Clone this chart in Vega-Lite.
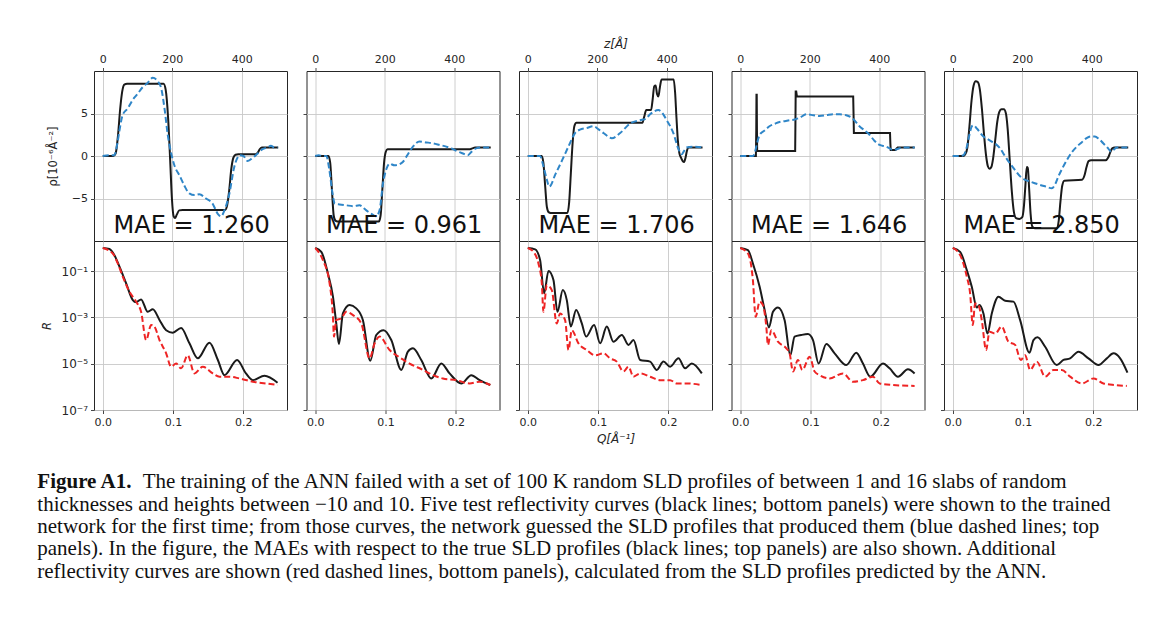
{
"$schema": "https://vega.github.io/schema/vega-lite/v6.json",
"autosize": {"type": "none"},
"padding": {"left": 94, "top": 71, "right": 1076, "bottom": 546},
"background": "white",
"config": {
  "view": {"stroke": "#262626", "strokeWidth": 1},
  "axis": {"domain": false, "grid": true, "gridColor": "#c8c8c8", "gridWidth": 0.9, "ticks": true, "tickColor": "#333333", "tickSize": 3.5, "tickWidth": 0.9, "labelFont": "DejaVu Sans", "labelFontSize": 11, "labelColor": "#262626", "labelPadding": 3, "labelFlush": false, "titleFont": "DejaVu Sans", "titleFontSize": 11.5, "titleFontWeight": "normal", "titleColor": "#262626"}
},
"datasets": {
  "mae": [
    {"panel": 1, "label": "MAE = 1.260"},
    {"panel": 2, "label": "MAE = 0.961"},
    {"panel": 3, "label": "MAE = 1.706"},
    {"panel": 4, "label": "MAE = 1.646"},
    {"panel": 5, "label": "MAE = 2.850"}
  ],
  "caption": [
    {"line": 1, "part": "bold", "text": "Figure A1."},
    {"line": 1, "part": "rest", "text": "The training of the ANN failed with a set of 100 K random SLD profiles of between 1 and 16 slabs of random"},
    {"line": 2, "part": "body", "text": "thicknesses and heights between −10 and 10. Five test reflectivity curves (black lines; bottom panels) were shown to the trained"},
    {"line": 3, "part": "body", "text": "network for the first time; from those curves, the network guessed the SLD profiles that produced them (blue dashed lines; top"},
    {"line": 4, "part": "body", "text": "panels). In the figure, the MAEs with respect to the true SLD profiles (black lines; top panels) are also shown. Additional"},
    {"line": 5, "part": "body", "text": "reflectivity curves are shown (red dashed lines, bottom panels), calculated from the SLD profiles predicted by the ANN."}
  ],
  "sld": [
{"panel":1,"series":"true","z":0,"rho":0},{"panel":1,"series":"true","z":30,"rho":0},{"panel":1,"series":"true","z":37,"rho":0.3},{"panel":1,"series":"true","z":44,"rho":2.5},{"panel":1,"series":"true","z":50,"rho":5.5},{"panel":1,"series":"true","z":56,"rho":7.6},{"panel":1,"series":"true","z":62,"rho":8.4},{"panel":1,"series":"true","z":70,"rho":8.5},{"panel":1,"series":"true","z":175,"rho":8.5},{"panel":1,"series":"true","z":181,"rho":7.8},{"panel":1,"series":"true","z":188,"rho":4.5},{"panel":1,"series":"true","z":194,"rho":-0.5},{"panel":1,"series":"true","z":199,"rho":-5},{"panel":1,"series":"true","z":204,"rho":-7.1},{"panel":1,"series":"true","z":208,"rho":-7.3},{"panel":1,"series":"true","z":213,"rho":-6.9},{"panel":1,"series":"true","z":220,"rho":-6.4},{"panel":1,"series":"true","z":230,"rho":-6.35},{"panel":1,"series":"true","z":352,"rho":-6.35},{"panel":1,"series":"true","z":358,"rho":-5.8},{"panel":1,"series":"true","z":364,"rho":-4},{"panel":1,"series":"true","z":370,"rho":-1.5},{"panel":1,"series":"true","z":376,"rho":-0.2},{"panel":1,"series":"true","z":382,"rho":0.15},{"panel":1,"series":"true","z":390,"rho":0.2},{"panel":1,"series":"true","z":440,"rho":0.2},{"panel":1,"series":"true","z":446,"rho":0.4},{"panel":1,"series":"true","z":452,"rho":0.8},{"panel":1,"series":"true","z":458,"rho":1.0},{"panel":1,"series":"true","z":505,"rho":1.0},
{"panel":1,"series":"predicted","z":0,"rho":0},{"panel":1,"series":"predicted","z":20,"rho":0.1},{"panel":1,"series":"predicted","z":33,"rho":0.1},{"panel":1,"series":"predicted","z":42,"rho":1.5},{"panel":1,"series":"predicted","z":48,"rho":3},{"panel":1,"series":"predicted","z":57,"rho":4.8},{"panel":1,"series":"predicted","z":72,"rho":5.6},{"panel":1,"series":"predicted","z":86,"rho":6.6},{"panel":1,"series":"predicted","z":100,"rho":7.3},{"panel":1,"series":"predicted","z":115,"rho":8.1},{"panel":1,"series":"predicted","z":129,"rho":8.6},{"panel":1,"series":"predicted","z":144,"rho":9.2},{"panel":1,"series":"predicted","z":158,"rho":8.8},{"panel":1,"series":"predicted","z":168,"rho":8.0},{"panel":1,"series":"predicted","z":178,"rho":5.5},{"panel":1,"series":"predicted","z":187,"rho":2.5},{"panel":1,"series":"predicted","z":197,"rho":0.3},{"panel":1,"series":"predicted","z":207,"rho":-1.2},{"panel":1,"series":"predicted","z":221,"rho":-2.3},{"panel":1,"series":"predicted","z":235,"rho":-3.5},{"panel":1,"series":"predicted","z":249,"rho":-4.4},{"panel":1,"series":"predicted","z":264,"rho":-4.6},{"panel":1,"series":"predicted","z":278,"rho":-4.5},{"panel":1,"series":"predicted","z":297,"rho":-5.0},{"panel":1,"series":"predicted","z":316,"rho":-5.6},{"panel":1,"series":"predicted","z":331,"rho":-6.8},{"panel":1,"series":"predicted","z":340,"rho":-7.1},{"panel":1,"series":"predicted","z":352,"rho":-6.2},{"panel":1,"series":"predicted","z":364,"rho":-4.5},{"panel":1,"series":"predicted","z":379,"rho":-1.2},{"panel":1,"series":"predicted","z":395,"rho":0.1},{"panel":1,"series":"predicted","z":405,"rho":0},{"panel":1,"series":"predicted","z":417,"rho":-0.6},{"panel":1,"series":"predicted","z":432,"rho":-0.2},{"panel":1,"series":"predicted","z":446,"rho":0.3},{"panel":1,"series":"predicted","z":460,"rho":0.8},{"panel":1,"series":"predicted","z":474,"rho":1.0},{"panel":1,"series":"predicted","z":484,"rho":1.2},{"panel":1,"series":"predicted","z":494,"rho":1.0},{"panel":1,"series":"predicted","z":503,"rho":1.0},
{"panel":2,"series":"true","z":0,"rho":0},{"panel":2,"series":"true","z":38,"rho":0},{"panel":2,"series":"true","z":43,"rho":-0.8},{"panel":2,"series":"true","z":48,"rho":-4},{"panel":2,"series":"true","z":53,"rho":-7},{"panel":2,"series":"true","z":58,"rho":-7.6},{"panel":2,"series":"true","z":64,"rho":-7.7},{"panel":2,"series":"true","z":183,"rho":-7.7},{"panel":2,"series":"true","z":188,"rho":-7},{"panel":2,"series":"true","z":193,"rho":-4},{"panel":2,"series":"true","z":198,"rho":-0.8},{"panel":2,"series":"true","z":203,"rho":0.5},{"panel":2,"series":"true","z":208,"rho":0.8},{"panel":2,"series":"true","z":446,"rho":0.8},{"panel":2,"series":"true","z":452,"rho":0.9},{"panel":2,"series":"true","z":460,"rho":1.0},{"panel":2,"series":"true","z":505,"rho":1.0},
{"panel":2,"series":"predicted","z":0,"rho":0},{"panel":2,"series":"predicted","z":10,"rho":0.1},{"panel":2,"series":"predicted","z":20,"rho":0},{"panel":2,"series":"predicted","z":32,"rho":0},{"panel":2,"series":"predicted","z":40,"rho":-1.5},{"panel":2,"series":"predicted","z":50,"rho":-4.5},{"panel":2,"series":"predicted","z":56,"rho":-5.6},{"panel":2,"series":"predicted","z":70,"rho":-5.7},{"panel":2,"series":"predicted","z":89,"rho":-5.8},{"panel":2,"series":"predicted","z":110,"rho":-5.9},{"panel":2,"series":"predicted","z":127,"rho":-5.8},{"panel":2,"series":"predicted","z":147,"rho":-6.4},{"panel":2,"series":"predicted","z":165,"rho":-6.9},{"panel":2,"series":"predicted","z":175,"rho":-7.1},{"panel":2,"series":"predicted","z":185,"rho":-6.4},{"panel":2,"series":"predicted","z":195,"rho":-3.2},{"panel":2,"series":"predicted","z":205,"rho":-1.5},{"panel":2,"series":"predicted","z":214,"rho":-0.9},{"panel":2,"series":"predicted","z":228,"rho":-1.1},{"panel":2,"series":"predicted","z":240,"rho":-1.0},{"panel":2,"series":"predicted","z":252,"rho":-0.7},{"panel":2,"series":"predicted","z":268,"rho":0.3},{"panel":2,"series":"predicted","z":281,"rho":1.1},{"panel":2,"series":"predicted","z":300,"rho":1.7},{"panel":2,"series":"predicted","z":320,"rho":1.6},{"panel":2,"series":"predicted","z":338,"rho":1.5},{"panel":2,"series":"predicted","z":358,"rho":1.3},{"panel":2,"series":"predicted","z":377,"rho":1.1},{"panel":2,"series":"predicted","z":392,"rho":0.9},{"panel":2,"series":"predicted","z":406,"rho":0.6},{"panel":2,"series":"predicted","z":425,"rho":0.3},{"panel":2,"series":"predicted","z":439,"rho":0.1},{"panel":2,"series":"predicted","z":450,"rho":0.5},{"panel":2,"series":"predicted","z":463,"rho":0.9},{"panel":2,"series":"predicted","z":480,"rho":1.0},{"panel":2,"series":"predicted","z":503,"rho":1.0},
{"panel":3,"series":"true","z":0,"rho":0},{"panel":3,"series":"true","z":40,"rho":0},{"panel":3,"series":"true","z":45,"rho":-0.8},{"panel":3,"series":"true","z":50,"rho":-3.5},{"panel":3,"series":"true","z":55,"rho":-6},{"panel":3,"series":"true","z":60,"rho":-6.6},{"panel":3,"series":"true","z":66,"rho":-6.7},{"panel":3,"series":"true","z":114,"rho":-6.7},{"panel":3,"series":"true","z":119,"rho":-5.5},{"panel":3,"series":"true","z":124,"rho":-2},{"panel":3,"series":"true","z":129,"rho":1.5},{"panel":3,"series":"true","z":134,"rho":3.5},{"panel":3,"series":"true","z":140,"rho":3.9},{"panel":3,"series":"true","z":330,"rho":3.9},{"panel":3,"series":"true","z":335,"rho":4.6},{"panel":3,"series":"true","z":341,"rho":5.4},{"panel":3,"series":"true","z":355,"rho":5.4},{"panel":3,"series":"true","z":359,"rho":6.5},{"panel":3,"series":"true","z":364,"rho":8.2},{"panel":3,"series":"true","z":368,"rho":8.3},{"panel":3,"series":"true","z":372,"rho":7.3},{"panel":3,"series":"true","z":376,"rho":7.0},{"panel":3,"series":"true","z":380,"rho":8.0},{"panel":3,"series":"true","z":385,"rho":9.0},{"panel":3,"series":"true","z":420,"rho":9.0},{"panel":3,"series":"true","z":424,"rho":7.5},{"panel":3,"series":"true","z":428,"rho":4.5},{"panel":3,"series":"true","z":432,"rho":1.8},{"panel":3,"series":"true","z":436,"rho":0.4},{"panel":3,"series":"true","z":441,"rho":-0.2},{"panel":3,"series":"true","z":446,"rho":-0.6},{"panel":3,"series":"true","z":450,"rho":-0.7},{"panel":3,"series":"true","z":454,"rho":-0.2},{"panel":3,"series":"true","z":458,"rho":0.6},{"panel":3,"series":"true","z":463,"rho":1.0},{"panel":3,"series":"true","z":503,"rho":1.0},
{"panel":3,"series":"predicted","z":0,"rho":0},{"panel":3,"series":"predicted","z":35,"rho":0},{"panel":3,"series":"predicted","z":45,"rho":-1.2},{"panel":3,"series":"predicted","z":55,"rho":-2.8},{"panel":3,"series":"predicted","z":62,"rho":-3.6},{"panel":3,"series":"predicted","z":80,"rho":-2.1},{"panel":3,"series":"predicted","z":100,"rho":-0.4},{"panel":3,"series":"predicted","z":118,"rho":1.2},{"panel":3,"series":"predicted","z":136,"rho":2.7},{"panel":3,"series":"predicted","z":150,"rho":3.1},{"panel":3,"series":"predicted","z":170,"rho":3.3},{"panel":3,"series":"predicted","z":189,"rho":3.5},{"panel":3,"series":"predicted","z":205,"rho":3.1},{"panel":3,"series":"predicted","z":218,"rho":2.7},{"panel":3,"series":"predicted","z":242,"rho":2.1},{"panel":3,"series":"predicted","z":266,"rho":2.7},{"panel":3,"series":"predicted","z":294,"rho":3.8},{"panel":3,"series":"predicted","z":323,"rho":4.2},{"panel":3,"series":"predicted","z":340,"rho":4.4},{"panel":3,"series":"predicted","z":352,"rho":4.9},{"panel":3,"series":"predicted","z":376,"rho":5.4},{"panel":3,"series":"predicted","z":390,"rho":4.9},{"panel":3,"series":"predicted","z":400,"rho":4.2},{"panel":3,"series":"predicted","z":410,"rho":3.5},{"panel":3,"series":"predicted","z":419,"rho":2.7},{"panel":3,"series":"predicted","z":433,"rho":0.9},{"panel":3,"series":"predicted","z":443,"rho":0.2},{"panel":3,"series":"predicted","z":450,"rho":0.6},{"panel":3,"series":"predicted","z":457,"rho":1.0},{"panel":3,"series":"predicted","z":477,"rho":1.1},{"panel":3,"series":"predicted","z":503,"rho":1.0},
{"panel":4,"series":"true","z":0,"rho":0},{"panel":4,"series":"true","z":45,"rho":0},{"panel":4,"series":"true","z":46,"rho":3},{"panel":4,"series":"true","z":46.6,"rho":7.2},{"panel":4,"series":"true","z":47.4,"rho":7.2},{"panel":4,"series":"true","z":48,"rho":3},{"panel":4,"series":"true","z":48.6,"rho":0.6},{"panel":4,"series":"true","z":158,"rho":0.6},{"panel":4,"series":"true","z":158.8,"rho":4},{"panel":4,"series":"true","z":159.5,"rho":7.6},{"panel":4,"series":"true","z":161,"rho":7.6},{"panel":4,"series":"true","z":163,"rho":7.0},{"panel":4,"series":"true","z":325,"rho":7.0},{"panel":4,"series":"true","z":326,"rho":5},{"panel":4,"series":"true","z":327,"rho":2.7},{"panel":4,"series":"true","z":431,"rho":2.7},{"panel":4,"series":"true","z":432,"rho":1.5},{"panel":4,"series":"true","z":433,"rho":0.7},{"panel":4,"series":"true","z":447,"rho":0.7},{"panel":4,"series":"true","z":450,"rho":0.9},{"panel":4,"series":"true","z":453,"rho":1.0},{"panel":4,"series":"true","z":502,"rho":1.0},
{"panel":4,"series":"predicted","z":0,"rho":0},{"panel":4,"series":"predicted","z":36,"rho":0},{"panel":4,"series":"predicted","z":42,"rho":0.4},{"panel":4,"series":"predicted","z":46,"rho":1.1},{"panel":4,"series":"predicted","z":56,"rho":2.5},{"panel":4,"series":"predicted","z":70,"rho":3.0},{"panel":4,"series":"predicted","z":84,"rho":3.5},{"panel":4,"series":"predicted","z":100,"rho":3.8},{"panel":4,"series":"predicted","z":113,"rho":4.0},{"panel":4,"series":"predicted","z":128,"rho":4.1},{"panel":4,"series":"predicted","z":142,"rho":4.2},{"panel":4,"series":"predicted","z":157,"rho":4.3},{"panel":4,"series":"predicted","z":171,"rho":4.5},{"panel":4,"series":"predicted","z":190,"rho":4.9},{"panel":4,"series":"predicted","z":210,"rho":4.8},{"panel":4,"series":"predicted","z":228,"rho":4.7},{"panel":4,"series":"predicted","z":248,"rho":4.8},{"panel":4,"series":"predicted","z":267,"rho":4.9},{"panel":4,"series":"predicted","z":286,"rho":4.9},{"panel":4,"series":"predicted","z":305,"rho":4.8},{"panel":4,"series":"predicted","z":324,"rho":4.4},{"panel":4,"series":"predicted","z":343,"rho":3.5},{"panel":4,"series":"predicted","z":358,"rho":3.0},{"panel":4,"series":"predicted","z":372,"rho":2.5},{"panel":4,"series":"predicted","z":386,"rho":1.8},{"panel":4,"series":"predicted","z":401,"rho":1.3},{"panel":4,"series":"predicted","z":420,"rho":1.1},{"panel":4,"series":"predicted","z":430,"rho":0.9},{"panel":4,"series":"predicted","z":439,"rho":0.7},{"panel":4,"series":"predicted","z":450,"rho":0.8},{"panel":4,"series":"predicted","z":468,"rho":1.0},{"panel":4,"series":"predicted","z":502,"rho":1.0},
{"panel":5,"series":"true","z":0,"rho":0},{"panel":5,"series":"true","z":30,"rho":0},{"panel":5,"series":"true","z":36,"rho":0.2},{"panel":5,"series":"true","z":42,"rho":1},{"panel":5,"series":"true","z":48,"rho":3.5},{"panel":5,"series":"true","z":54,"rho":6.5},{"panel":5,"series":"true","z":60,"rho":8.3},{"panel":5,"series":"true","z":66,"rho":8.8},{"panel":5,"series":"true","z":72,"rho":8.7},{"panel":5,"series":"true","z":78,"rho":7.8},{"panel":5,"series":"true","z":84,"rho":5.5},{"panel":5,"series":"true","z":90,"rho":2.5},{"panel":5,"series":"true","z":96,"rho":0},{"panel":5,"series":"true","z":101,"rho":-1.2},{"panel":5,"series":"true","z":106,"rho":-1.5},{"panel":5,"series":"true","z":111,"rho":-1.3},{"panel":5,"series":"true","z":116,"rho":-0.3},{"panel":5,"series":"true","z":122,"rho":1.8},{"panel":5,"series":"true","z":128,"rho":4},{"panel":5,"series":"true","z":134,"rho":5.2},{"panel":5,"series":"true","z":140,"rho":5.5},{"panel":5,"series":"true","z":147,"rho":5.5},{"panel":5,"series":"true","z":153,"rho":5.0},{"panel":5,"series":"true","z":158,"rho":3.2},{"panel":5,"series":"true","z":164,"rho":-0.5},{"panel":5,"series":"true","z":170,"rho":-4.2},{"panel":5,"series":"true","z":176,"rho":-6.6},{"panel":5,"series":"true","z":182,"rho":-7.3},{"panel":5,"series":"true","z":192,"rho":-7.4},{"panel":5,"series":"true","z":200,"rho":-7.2},{"panel":5,"series":"true","z":205,"rho":-5.8},{"panel":5,"series":"true","z":209,"rho":-3.5},{"panel":5,"series":"true","z":213,"rho":-1.3},{"panel":5,"series":"true","z":216,"rho":-1.4},{"panel":5,"series":"true","z":220,"rho":-4},{"panel":5,"series":"true","z":224,"rho":-6.8},{"panel":5,"series":"true","z":229,"rho":-8.3},{"panel":5,"series":"true","z":236,"rho":-8.5},{"panel":5,"series":"true","z":300,"rho":-8.5},{"panel":5,"series":"true","z":305,"rho":-7.6},{"panel":5,"series":"true","z":310,"rho":-5.3},{"panel":5,"series":"true","z":315,"rho":-3.5},{"panel":5,"series":"true","z":321,"rho":-2.9},{"panel":5,"series":"true","z":372,"rho":-2.8},{"panel":5,"series":"true","z":379,"rho":-2.3},{"panel":5,"series":"true","z":385,"rho":-1.3},{"panel":5,"series":"true","z":391,"rho":-0.6},{"panel":5,"series":"true","z":398,"rho":-0.5},{"panel":5,"series":"true","z":440,"rho":-0.5},{"panel":5,"series":"true","z":447,"rho":-0.2},{"panel":5,"series":"true","z":453,"rho":0.4},{"panel":5,"series":"true","z":459,"rho":0.9},{"panel":5,"series":"true","z":466,"rho":1.0},{"panel":5,"series":"true","z":505,"rho":1.0},
{"panel":5,"series":"predicted","z":0,"rho":0},{"panel":5,"series":"predicted","z":20,"rho":0},{"panel":5,"series":"predicted","z":31,"rho":0.1},{"panel":5,"series":"predicted","z":40,"rho":1.0},{"panel":5,"series":"predicted","z":48,"rho":2.5},{"panel":5,"series":"predicted","z":55,"rho":3.5},{"panel":5,"series":"predicted","z":60,"rho":3.6},{"panel":5,"series":"predicted","z":70,"rho":3.2},{"panel":5,"series":"predicted","z":88,"rho":2.3},{"panel":5,"series":"predicted","z":100,"rho":2.0},{"panel":5,"series":"predicted","z":112,"rho":1.7},{"panel":5,"series":"predicted","z":124,"rho":1.4},{"panel":5,"series":"predicted","z":136,"rho":0.9},{"panel":5,"series":"predicted","z":150,"rho":0},{"panel":5,"series":"predicted","z":165,"rho":-0.9},{"panel":5,"series":"predicted","z":180,"rho":-1.7},{"panel":5,"series":"predicted","z":194,"rho":-2.4},{"panel":5,"series":"predicted","z":208,"rho":-2.8},{"panel":5,"series":"predicted","z":222,"rho":-3.0},{"panel":5,"series":"predicted","z":236,"rho":-3.2},{"panel":5,"series":"predicted","z":251,"rho":-3.4},{"panel":5,"series":"predicted","z":268,"rho":-3.6},{"panel":5,"series":"predicted","z":285,"rho":-3.8},{"panel":5,"series":"predicted","z":295,"rho":-3.3},{"panel":5,"series":"predicted","z":304,"rho":-2.4},{"panel":5,"series":"predicted","z":316,"rho":-1.4},{"panel":5,"series":"predicted","z":328,"rho":-0.5},{"panel":5,"series":"predicted","z":342,"rho":0.4},{"panel":5,"series":"predicted","z":357,"rho":1.1},{"panel":5,"series":"predicted","z":371,"rho":1.6},{"panel":5,"series":"predicted","z":385,"rho":2.1},{"panel":5,"series":"predicted","z":397,"rho":2.3},{"panel":5,"series":"predicted","z":409,"rho":2.3},{"panel":5,"series":"predicted","z":421,"rho":2.0},{"panel":5,"series":"predicted","z":433,"rho":1.5},{"panel":5,"series":"predicted","z":445,"rho":1.0},{"panel":5,"series":"predicted","z":457,"rho":0.5},{"panel":5,"series":"predicted","z":465,"rho":0.8},{"panel":5,"series":"predicted","z":472,"rho":1.0},{"panel":5,"series":"predicted","z":505,"rho":1.0}
  ],
  "refl": [
{"panel":1,"series":"true","Q":0,"R":1},{"panel":1,"series":"true","Q":0.0095,"R":0.91},{"panel":1,"series":"true","Q":0.0166,"R":0.49},{"panel":1,"series":"true","Q":0.0238,"R":0.155},{"panel":1,"series":"true","Q":0.0333,"R":0.0295},{"panel":1,"series":"true","Q":0.0428,"R":0.0056},{"panel":1,"series":"true","Q":0.0475,"R":0.0045},{"panel":1,"series":"true","Q":0.0546,"R":0.006},{"panel":1,"series":"true","Q":0.0641,"R":0.00174},{"panel":1,"series":"true","Q":0.0713,"R":0.00224},{"panel":1,"series":"true","Q":0.081,"R":0.00076},{"panel":1,"series":"true","Q":0.0903,"R":0.00028},{"panel":1,"series":"true","Q":0.0998,"R":0.00022},{"panel":1,"series":"true","Q":0.1116,"R":0.00035},{"panel":1,"series":"true","Q":0.1235,"R":7.6e-5},{"panel":1,"series":"true","Q":0.1354,"R":1.7e-5},{"panel":1,"series":"true","Q":0.152,"R":8.1e-5},{"panel":1,"series":"true","Q":0.164,"R":1.45e-5},{"panel":1,"series":"true","Q":0.1734,"R":3.2e-6},{"panel":1,"series":"true","Q":0.1914,"R":1.45e-5},{"panel":1,"series":"true","Q":0.204,"R":3.8e-6},{"panel":1,"series":"true","Q":0.2138,"R":1.95e-6},{"panel":1,"series":"true","Q":0.2304,"R":3.0e-6},{"panel":1,"series":"true","Q":0.249,"R":1.5e-6},
{"panel":1,"series":"predicted","Q":0,"R":1},{"panel":1,"series":"predicted","Q":0.0143,"R":0.575},{"panel":1,"series":"predicted","Q":0.0214,"R":0.214},{"panel":1,"series":"predicted","Q":0.0285,"R":0.0575},{"panel":1,"series":"predicted","Q":0.038,"R":0.0129},{"panel":1,"series":"predicted","Q":0.0475,"R":0.0048},{"panel":1,"series":"predicted","Q":0.0546,"R":0.00174},{"panel":1,"series":"predicted","Q":0.0618,"R":0.000105},{"panel":1,"series":"predicted","Q":0.0689,"R":0.00047},{"panel":1,"series":"predicted","Q":0.0736,"R":0.0004},{"panel":1,"series":"predicted","Q":0.0808,"R":0.000105},{"panel":1,"series":"predicted","Q":0.0903,"R":2.8e-5},{"panel":1,"series":"predicted","Q":0.0974,"R":7.4e-6},{"panel":1,"series":"predicted","Q":0.1045,"R":1.02e-5},{"panel":1,"series":"predicted","Q":0.1116,"R":6.3e-6},{"panel":1,"series":"predicted","Q":0.1211,"R":2.3e-5},{"panel":1,"series":"predicted","Q":0.1306,"R":3.8e-6},{"panel":1,"series":"predicted","Q":0.1425,"R":7.4e-6},{"panel":1,"series":"predicted","Q":0.1568,"R":3.8e-6},{"panel":1,"series":"predicted","Q":0.1663,"R":2.75e-6},{"panel":1,"series":"predicted","Q":0.1805,"R":2.75e-6},{"panel":1,"series":"predicted","Q":0.1948,"R":2.3e-6},{"panel":1,"series":"predicted","Q":0.2138,"R":1.66e-6},{"panel":1,"series":"predicted","Q":0.2328,"R":1.4e-6},{"panel":1,"series":"predicted","Q":0.249,"R":1.2e-6},
{"panel":2,"series":"true","Q":0,"R":1},{"panel":2,"series":"true","Q":0.0086,"R":0.68},{"panel":2,"series":"true","Q":0.018,"R":0.079},{"panel":2,"series":"true","Q":0.0252,"R":0.0079},{"panel":2,"series":"true","Q":0.0299,"R":0.00055},{"panel":2,"series":"true","Q":0.0337,"R":7.1e-5},{"panel":2,"series":"true","Q":0.0394,"R":0.00148},{"panel":2,"series":"true","Q":0.0489,"R":0.0034},{"panel":2,"series":"true","Q":0.0584,"R":0.00245},{"panel":2,"series":"true","Q":0.0679,"R":0.00076},{"panel":2,"series":"true","Q":0.0784,"R":1.35e-5},{"panel":2,"series":"true","Q":0.0869,"R":0.000174},{"panel":2,"series":"true","Q":0.0974,"R":0.00028},{"panel":2,"series":"true","Q":0.1083,"R":0.000105},{"panel":2,"series":"true","Q":0.1226,"R":5.4e-6},{"panel":2,"series":"true","Q":0.132,"R":3.3e-5},{"panel":2,"series":"true","Q":0.1392,"R":4.6e-5},{"panel":2,"series":"true","Q":0.151,"R":1.45e-5},{"panel":2,"series":"true","Q":0.1653,"R":2.3e-6},{"panel":2,"series":"true","Q":0.1796,"R":1.02e-5},{"panel":2,"series":"true","Q":0.1914,"R":3.8e-6},{"panel":2,"series":"true","Q":0.208,"R":1.4e-6},{"panel":2,"series":"true","Q":0.2223,"R":3.2e-6},{"panel":2,"series":"true","Q":0.2342,"R":1.95e-6},{"panel":2,"series":"true","Q":0.2494,"R":1.2e-6},
{"panel":2,"series":"predicted","Q":0,"R":1},{"panel":2,"series":"predicted","Q":0.0109,"R":0.295},{"panel":2,"series":"predicted","Q":0.0204,"R":0.0295},{"panel":2,"series":"predicted","Q":0.0252,"R":0.00107},{"panel":2,"series":"predicted","Q":0.0266,"R":0.000148},{"panel":2,"series":"predicted","Q":0.0299,"R":0.00076},{"panel":2,"series":"predicted","Q":0.037,"R":0.00091},{"panel":2,"series":"predicted","Q":0.0442,"R":0.00174},{"panel":2,"series":"predicted","Q":0.0537,"R":0.00126},{"panel":2,"series":"predicted","Q":0.0656,"R":0.00055},{"panel":2,"series":"predicted","Q":0.0774,"R":1.7e-5},{"panel":2,"series":"predicted","Q":0.0846,"R":7.6e-5},{"panel":2,"series":"predicted","Q":0.0917,"R":0.000148},{"panel":2,"series":"predicted","Q":0.1059,"R":3.9e-5},{"panel":2,"series":"predicted","Q":0.1202,"R":1.86e-5},{"panel":2,"series":"predicted","Q":0.1344,"R":1.02e-5},{"panel":2,"series":"predicted","Q":0.1534,"R":5.4e-6},{"panel":2,"series":"predicted","Q":0.1677,"R":3.2e-6},{"panel":2,"series":"predicted","Q":0.1819,"R":2.3e-6},{"panel":2,"series":"predicted","Q":0.2009,"R":1.95e-6},{"panel":2,"series":"predicted","Q":0.2199,"R":1.4e-6},{"panel":2,"series":"predicted","Q":0.2342,"R":1.66e-6},{"panel":2,"series":"predicted","Q":0.2494,"R":1.2e-6},
{"panel":3,"series":"true","Q":0,"R":1},{"panel":3,"series":"true","Q":0.0105,"R":0.87},{"panel":3,"series":"true","Q":0.0176,"R":0.295},{"panel":3,"series":"true","Q":0.0233,"R":0.011},{"panel":3,"series":"true","Q":0.0295,"R":0.102},{"panel":3,"series":"true","Q":0.0366,"R":0.041},{"panel":3,"series":"true","Q":0.0423,"R":0.00174},{"panel":3,"series":"true","Q":0.0499,"R":0.0151},{"panel":3,"series":"true","Q":0.0556,"R":0.0056},{"panel":3,"series":"true","Q":0.0613,"R":0.0004},{"panel":3,"series":"true","Q":0.0689,"R":0.0021},{"panel":3,"series":"true","Q":0.077,"R":0.00055},{"panel":3,"series":"true","Q":0.0831,"R":0.000148},{"panel":3,"series":"true","Q":0.0945,"R":0.00047},{"panel":3,"series":"true","Q":0.1031,"R":7.6e-5},{"panel":3,"series":"true","Q":0.1126,"R":0.0004},{"panel":3,"series":"true","Q":0.1221,"R":8.9e-5},{"panel":3,"series":"true","Q":0.134,"R":0.000174},{"panel":3,"series":"true","Q":0.1435,"R":6.5e-5},{"panel":3,"series":"true","Q":0.1506,"R":0.000105},{"panel":3,"series":"true","Q":0.1601,"R":1.45e-5},{"panel":3,"series":"true","Q":0.1743,"R":1.23e-5},{"panel":3,"series":"true","Q":0.1838,"R":5.4e-6},{"panel":3,"series":"true","Q":0.1933,"R":1.23e-5},{"panel":3,"series":"true","Q":0.2028,"R":7.4e-6},{"panel":3,"series":"true","Q":0.2147,"R":1.7e-5},{"panel":3,"series":"true","Q":0.2242,"R":6.3e-6},{"panel":3,"series":"true","Q":0.2337,"R":1.02e-5},{"panel":3,"series":"true","Q":0.248,"R":3.8e-6},
{"panel":3,"series":"predicted","Q":0,"R":1},{"panel":3,"series":"predicted","Q":0.0081,"R":0.68},{"panel":3,"series":"predicted","Q":0.0152,"R":0.214},{"panel":3,"series":"predicted","Q":0.02,"R":0.0295},{"panel":3,"series":"predicted","Q":0.0223,"R":0.00174},{"panel":3,"series":"predicted","Q":0.0271,"R":0.025},{"panel":3,"series":"predicted","Q":0.0342,"R":0.0151},{"panel":3,"series":"predicted","Q":0.0413,"R":0.00055},{"panel":3,"series":"predicted","Q":0.0461,"R":0.00148},{"panel":3,"series":"predicted","Q":0.0532,"R":0.00076},{"panel":3,"series":"predicted","Q":0.058,"R":3.9e-5},{"panel":3,"series":"predicted","Q":0.0627,"R":0.00028},{"panel":3,"series":"predicted","Q":0.0722,"R":7.6e-5},{"panel":3,"series":"predicted","Q":0.0841,"R":3.9e-5},{"panel":3,"series":"predicted","Q":0.096,"R":2.3e-5},{"panel":3,"series":"predicted","Q":0.1078,"R":2.8e-5},{"panel":3,"series":"predicted","Q":0.1173,"R":1.7e-5},{"panel":3,"series":"predicted","Q":0.1268,"R":1.23e-5},{"panel":3,"series":"predicted","Q":0.1363,"R":4.6e-6},{"panel":3,"series":"predicted","Q":0.1435,"R":7.4e-6},{"panel":3,"series":"predicted","Q":0.1506,"R":2.75e-6},{"panel":3,"series":"predicted","Q":0.1601,"R":3.8e-6},{"panel":3,"series":"predicted","Q":0.1743,"R":2.75e-6},{"panel":3,"series":"predicted","Q":0.1886,"R":1.95e-6},{"panel":3,"series":"predicted","Q":0.2028,"R":1.95e-6},{"panel":3,"series":"predicted","Q":0.2123,"R":1.4e-6},{"panel":3,"series":"predicted","Q":0.2266,"R":1.4e-6},{"panel":3,"series":"predicted","Q":0.248,"R":1.2e-6},
{"panel":4,"series":"true","Q":0,"R":1},{"panel":4,"series":"true","Q":0.0109,"R":0.81},{"panel":4,"series":"true","Q":0.018,"R":0.214},{"panel":4,"series":"true","Q":0.0276,"R":0.021},{"panel":4,"series":"true","Q":0.0347,"R":0.0021},{"panel":4,"series":"true","Q":0.0409,"R":0.00037},{"panel":4,"series":"true","Q":0.0466,"R":0.00174},{"panel":4,"series":"true","Q":0.0537,"R":0.0027},{"panel":4,"series":"true","Q":0.0632,"R":0.00076},{"panel":4,"series":"true","Q":0.0713,"R":2.3e-5},{"panel":4,"series":"true","Q":0.0774,"R":0.000148},{"panel":4,"series":"true","Q":0.0869,"R":0.000174},{"panel":4,"series":"true","Q":0.0964,"R":0.00019},{"panel":4,"series":"true","Q":0.1036,"R":0.000105},{"panel":4,"series":"true","Q":0.1116,"R":1.02e-5},{"panel":4,"series":"true","Q":0.1226,"R":7.1e-5},{"panel":4,"series":"true","Q":0.1344,"R":2.8e-5},{"panel":4,"series":"true","Q":0.1511,"R":8.7e-6},{"panel":4,"series":"true","Q":0.1653,"R":3.0e-5},{"panel":4,"series":"true","Q":0.1748,"R":1.02e-5},{"panel":4,"series":"true","Q":0.1853,"R":2.75e-6},{"panel":4,"series":"true","Q":0.2033,"R":1.02e-5},{"panel":4,"series":"true","Q":0.2128,"R":6.3e-6},{"panel":4,"series":"true","Q":0.2247,"R":2.75e-6},{"panel":4,"series":"true","Q":0.2389,"R":5.75e-6},{"panel":4,"series":"true","Q":0.2484,"R":3.8e-6},
{"panel":4,"series":"predicted","Q":0,"R":1},{"panel":4,"series":"predicted","Q":0.0109,"R":0.575},{"panel":4,"series":"predicted","Q":0.018,"R":0.041},{"panel":4,"series":"predicted","Q":0.0219,"R":0.00107},{"panel":4,"series":"predicted","Q":0.0276,"R":0.0048},{"panel":4,"series":"predicted","Q":0.0323,"R":0.0034},{"panel":4,"series":"predicted","Q":0.0371,"R":0.0004},{"panel":4,"series":"predicted","Q":0.0394,"R":6.5e-5},{"panel":4,"series":"predicted","Q":0.0442,"R":0.00028},{"panel":4,"series":"predicted","Q":0.0537,"R":8.9e-5},{"panel":4,"series":"predicted","Q":0.0656,"R":4.6e-5},{"panel":4,"series":"predicted","Q":0.0703,"R":2.8e-5},{"panel":4,"series":"predicted","Q":0.0751,"R":4.6e-6},{"panel":4,"series":"predicted","Q":0.0822,"R":1.45e-5},{"panel":4,"series":"predicted","Q":0.0884,"R":5.4e-6},{"panel":4,"series":"predicted","Q":0.0988,"R":2.0e-5},{"panel":4,"series":"predicted","Q":0.1059,"R":4.6e-6},{"panel":4,"series":"predicted","Q":0.1131,"R":3.2e-6},{"panel":4,"series":"predicted","Q":0.1273,"R":2.3e-6},{"panel":4,"series":"predicted","Q":0.1463,"R":3.8e-6},{"panel":4,"series":"predicted","Q":0.1606,"R":1.66e-6},{"panel":4,"series":"predicted","Q":0.1748,"R":1.95e-6},{"panel":4,"series":"predicted","Q":0.1891,"R":2.75e-6},{"panel":4,"series":"predicted","Q":0.1986,"R":1.4e-6},{"panel":4,"series":"predicted","Q":0.2176,"R":1.2e-6},{"panel":4,"series":"predicted","Q":0.2484,"R":1.1e-6},
{"panel":5,"series":"true","Q":0,"R":1},{"panel":5,"series":"true","Q":0.0105,"R":0.68},{"panel":5,"series":"true","Q":0.02,"R":0.11},{"panel":5,"series":"true","Q":0.0271,"R":0.021},{"panel":5,"series":"true","Q":0.0342,"R":0.0027},{"panel":5,"series":"true","Q":0.038,"R":0.0034},{"panel":5,"series":"true","Q":0.0437,"R":0.00148},{"panel":5,"series":"true","Q":0.0494,"R":0.0002},{"panel":5,"series":"true","Q":0.0556,"R":0.00148},{"panel":5,"series":"true","Q":0.0651,"R":0.0078},{"panel":5,"series":"true","Q":0.0746,"R":0.0052},{"panel":5,"series":"true","Q":0.0865,"R":0.0048},{"panel":5,"series":"true","Q":0.096,"R":0.00076},{"panel":5,"series":"true","Q":0.1093,"R":2.95e-5},{"panel":5,"series":"true","Q":0.115,"R":0.000105},{"panel":5,"series":"true","Q":0.1207,"R":0.000138},{"panel":5,"series":"true","Q":0.1316,"R":5.4e-5},{"panel":5,"series":"true","Q":0.1482,"R":8.7e-6},{"panel":5,"series":"true","Q":0.1577,"R":1.45e-5},{"panel":5,"series":"true","Q":0.1672,"R":1.7e-5},{"panel":5,"series":"true","Q":0.1791,"R":3.3e-5},{"panel":5,"series":"true","Q":0.1933,"R":1.7e-5},{"panel":5,"series":"true","Q":0.2076,"R":8.7e-6},{"panel":5,"series":"true","Q":0.2195,"R":1.7e-5},{"panel":5,"series":"true","Q":0.229,"R":2.8e-5},{"panel":5,"series":"true","Q":0.2385,"R":1.7e-5},{"panel":5,"series":"true","Q":0.2489,"R":4.1e-6},
{"panel":5,"series":"predicted","Q":0,"R":1},{"panel":5,"series":"predicted","Q":0.0105,"R":0.49},{"panel":5,"series":"predicted","Q":0.02,"R":0.0575},{"panel":5,"series":"predicted","Q":0.0247,"R":0.011},{"panel":5,"series":"predicted","Q":0.0285,"R":0.00047},{"panel":5,"series":"predicted","Q":0.0318,"R":0.004},{"panel":5,"series":"predicted","Q":0.0366,"R":0.0034},{"panel":5,"series":"predicted","Q":0.0413,"R":0.00076},{"panel":5,"series":"predicted","Q":0.0475,"R":3.9e-5},{"panel":5,"series":"predicted","Q":0.0523,"R":0.00024},{"panel":5,"series":"predicted","Q":0.0603,"R":0.0002},{"panel":5,"series":"predicted","Q":0.0698,"R":0.0004},{"panel":5,"series":"predicted","Q":0.0793,"R":8.9e-5},{"panel":5,"series":"predicted","Q":0.0888,"R":6.5e-5},{"panel":5,"series":"predicted","Q":0.0969,"R":1.45e-5},{"panel":5,"series":"predicted","Q":0.1031,"R":2.3e-5},{"panel":5,"series":"predicted","Q":0.1102,"R":5.4e-6},{"panel":5,"series":"predicted","Q":0.1197,"R":1.23e-5},{"panel":5,"series":"predicted","Q":0.1316,"R":2.75e-6},{"panel":5,"series":"predicted","Q":0.1435,"R":5.4e-6},{"panel":5,"series":"predicted","Q":0.1553,"R":5.4e-6},{"panel":5,"series":"predicted","Q":0.1672,"R":2.75e-6},{"panel":5,"series":"predicted","Q":0.1838,"R":1.4e-6},{"panel":5,"series":"predicted","Q":0.2005,"R":2.3e-6},{"panel":5,"series":"predicted","Q":0.2147,"R":1.4e-6},{"panel":5,"series":"predicted","Q":0.2313,"R":1.2e-6},{"panel":5,"series":"predicted","Q":0.248,"R":1.1e-6}
  ]
},
"columns": 5,
"spacing": {"row": 0, "column": 19.5},
"bounds": "flush",
"concat": [
 {"width": 193, "height": 170,
  "layer": [
    {"data": {"name": "sld"}, "transform": [{"filter": "datum.panel == 1 && datum.series == 'true'"}], "mark": {"type": "line", "color": "#1a1a1a", "strokeWidth": 2, "interpolate": "monotone"},
     "encoding": {
      "x": {"field": "z", "type": "quantitative", "scale": {"domain": [-25.25, 530.25], "nice": false, "zero": false}, "axis": {"orient": "top", "values": [0, 200, 400], "title": null}},
      "y": {"field": "rho", "type": "quantitative", "scale": {"domain": [-10, 10], "nice": false, "zero": false}, "axis": {"values": [-5, 0, 5], "title": "ρ[10⁻⁶Å⁻²]", "titlePadding": 13}}}},
    {"data": {"name": "sld"}, "transform": [{"filter": "datum.panel == 1 && datum.series == 'predicted'"}], "mark": {"type": "line", "color": "#2f86c8", "strokeWidth": 2, "strokeDash": [6, 3], "interpolate": "monotone"},
     "encoding": {"x": {"field": "z", "type": "quantitative"}, "y": {"field": "rho", "type": "quantitative"}}},
    {"data": {"name": "mae"}, "transform": [{"filter": "datum.panel == 1"}], "mark": {"type": "text", "font": "DejaVu Sans", "fontSize": 24, "color": "#111111", "align": "center", "baseline": "alphabetic"},
     "encoding": {"x": {"datum": 256, "type": "quantitative"}, "y": {"datum": -9, "type": "quantitative"}, "text": {"field": "label"}}}
  ]},
 {"width": 193, "height": 170,
  "layer": [
    {"data": {"name": "sld"}, "transform": [{"filter": "datum.panel == 2 && datum.series == 'true'"}], "mark": {"type": "line", "color": "#1a1a1a", "strokeWidth": 2, "interpolate": "monotone"},
     "encoding": {
      "x": {"field": "z", "type": "quantitative", "scale": {"domain": [-25.25, 530.25], "nice": false, "zero": false}, "axis": {"orient": "top", "values": [0, 200, 400], "title": null}},
      "y": {"field": "rho", "type": "quantitative", "scale": {"domain": [-10, 10], "nice": false, "zero": false}, "axis": {"values": [-5, 0, 5], "labels": false, "title": null}}}},
    {"data": {"name": "sld"}, "transform": [{"filter": "datum.panel == 2 && datum.series == 'predicted'"}], "mark": {"type": "line", "color": "#2f86c8", "strokeWidth": 2, "strokeDash": [6, 3], "interpolate": "monotone"},
     "encoding": {"x": {"field": "z", "type": "quantitative"}, "y": {"field": "rho", "type": "quantitative"}}},
    {"data": {"name": "mae"}, "transform": [{"filter": "datum.panel == 2"}], "mark": {"type": "text", "font": "DejaVu Sans", "fontSize": 24, "color": "#111111", "align": "center", "baseline": "alphabetic"},
     "encoding": {"x": {"datum": 256, "type": "quantitative"}, "y": {"datum": -9, "type": "quantitative"}, "text": {"field": "label"}}}
  ]},
 {"width": 193, "height": 170,
  "layer": [
    {"data": {"name": "sld"}, "transform": [{"filter": "datum.panel == 3 && datum.series == 'true'"}], "mark": {"type": "line", "color": "#1a1a1a", "strokeWidth": 2, "interpolate": "monotone"},
     "encoding": {
      "x": {"field": "z", "type": "quantitative", "scale": {"domain": [-25.25, 530.25], "nice": false, "zero": false}, "axis": {"orient": "top", "values": [0, 200, 400], "title": "z[Å]", "titleFontStyle": "italic", "titleFontSize": 12, "titlePadding": 3}},
      "y": {"field": "rho", "type": "quantitative", "scale": {"domain": [-10, 10], "nice": false, "zero": false}, "axis": {"values": [-5, 0, 5], "labels": false, "title": null}}}},
    {"data": {"name": "sld"}, "transform": [{"filter": "datum.panel == 3 && datum.series == 'predicted'"}], "mark": {"type": "line", "color": "#2f86c8", "strokeWidth": 2, "strokeDash": [6, 3], "interpolate": "monotone"},
     "encoding": {"x": {"field": "z", "type": "quantitative"}, "y": {"field": "rho", "type": "quantitative"}}},
    {"data": {"name": "mae"}, "transform": [{"filter": "datum.panel == 3"}], "mark": {"type": "text", "font": "DejaVu Sans", "fontSize": 24, "color": "#111111", "align": "center", "baseline": "alphabetic"},
     "encoding": {"x": {"datum": 256, "type": "quantitative"}, "y": {"datum": -9, "type": "quantitative"}, "text": {"field": "label"}}}
  ]},
 {"width": 193, "height": 170,
  "layer": [
    {"data": {"name": "sld"}, "transform": [{"filter": "datum.panel == 4 && datum.series == 'true'"}], "mark": {"type": "line", "color": "#1a1a1a", "strokeWidth": 2},
     "encoding": {
      "x": {"field": "z", "type": "quantitative", "scale": {"domain": [-25.25, 530.25], "nice": false, "zero": false}, "axis": {"orient": "top", "values": [0, 200, 400], "title": null}},
      "y": {"field": "rho", "type": "quantitative", "scale": {"domain": [-10, 10], "nice": false, "zero": false}, "axis": {"values": [-5, 0, 5], "labels": false, "title": null}}}},
    {"data": {"name": "sld"}, "transform": [{"filter": "datum.panel == 4 && datum.series == 'predicted'"}], "mark": {"type": "line", "color": "#2f86c8", "strokeWidth": 2, "strokeDash": [6, 3], "interpolate": "monotone"},
     "encoding": {"x": {"field": "z", "type": "quantitative"}, "y": {"field": "rho", "type": "quantitative"}}},
    {"data": {"name": "mae"}, "transform": [{"filter": "datum.panel == 4"}], "mark": {"type": "text", "font": "DejaVu Sans", "fontSize": 24, "color": "#111111", "align": "center", "baseline": "alphabetic"},
     "encoding": {"x": {"datum": 256, "type": "quantitative"}, "y": {"datum": -9, "type": "quantitative"}, "text": {"field": "label"}}}
  ]},
 {"width": 193, "height": 170,
  "layer": [
    {"data": {"name": "sld"}, "transform": [{"filter": "datum.panel == 5 && datum.series == 'true'"}], "mark": {"type": "line", "color": "#1a1a1a", "strokeWidth": 2, "interpolate": "monotone"},
     "encoding": {
      "x": {"field": "z", "type": "quantitative", "scale": {"domain": [-25.25, 530.25], "nice": false, "zero": false}, "axis": {"orient": "top", "values": [0, 200, 400], "title": null}},
      "y": {"field": "rho", "type": "quantitative", "scale": {"domain": [-10, 10], "nice": false, "zero": false}, "axis": {"values": [-5, 0, 5], "labels": false, "title": null}}}},
    {"data": {"name": "sld"}, "transform": [{"filter": "datum.panel == 5 && datum.series == 'predicted'"}], "mark": {"type": "line", "color": "#2f86c8", "strokeWidth": 2, "strokeDash": [6, 3], "interpolate": "monotone"},
     "encoding": {"x": {"field": "z", "type": "quantitative"}, "y": {"field": "rho", "type": "quantitative"}}},
    {"data": {"name": "mae"}, "transform": [{"filter": "datum.panel == 5"}], "mark": {"type": "text", "font": "DejaVu Sans", "fontSize": 24, "color": "#111111", "align": "center", "baseline": "alphabetic"},
     "encoding": {"x": {"datum": 256, "type": "quantitative"}, "y": {"datum": -9, "type": "quantitative"}, "text": {"field": "label"}}}
  ]},
 {"width": 193, "height": 169, "data": {"name": "refl"},
  "encoding": {
    "x": {"field": "Q", "type": "quantitative", "scale": {"domain": [-0.0125, 0.2625], "nice": false, "zero": false}, "axis": {"values": [0, 0.1, 0.2], "format": ".1f", "title": null}},
    "y": {"field": "R", "type": "quantitative", "scale": {"type": "log", "domain": [1e-7, 2], "nice": false}, "axis": {"values": [1e-7, 1e-5, 0.001, 0.1], "labelFontSize": 12, "labelExpr": "datum.value < 1e-6 ? '10⁻⁷' : datum.value < 1e-4 ? '10⁻⁵' : datum.value < 1e-2 ? '10⁻³' : '10⁻¹'", "title": "R", "titleFontStyle": "italic", "titlePadding": 9}}
  },
  "layer": [
    {"transform": [{"filter": "datum.panel == 1 && datum.series == 'true'"}], "mark": {"type": "line", "color": "#1a1a1a", "strokeWidth": 2, "interpolate": "monotone"}},
    {"transform": [{"filter": "datum.panel == 1 && datum.series == 'predicted'"}], "mark": {"type": "line", "color": "#ee2424", "strokeWidth": 2, "strokeDash": [6, 3], "interpolate": "monotone"}}
  ]},
 {"width": 193, "height": 169, "data": {"name": "refl"},
  "encoding": {
    "x": {"field": "Q", "type": "quantitative", "scale": {"domain": [-0.0125, 0.2625], "nice": false, "zero": false}, "axis": {"values": [0, 0.1, 0.2], "format": ".1f", "title": null}},
    "y": {"field": "R", "type": "quantitative", "scale": {"type": "log", "domain": [1e-7, 2], "nice": false}, "axis": {"values": [1e-7, 1e-5, 0.001, 0.1], "labels": false, "title": null}}
  },
  "layer": [
    {"transform": [{"filter": "datum.panel == 2 && datum.series == 'true'"}], "mark": {"type": "line", "color": "#1a1a1a", "strokeWidth": 2, "interpolate": "monotone"}},
    {"transform": [{"filter": "datum.panel == 2 && datum.series == 'predicted'"}], "mark": {"type": "line", "color": "#ee2424", "strokeWidth": 2, "strokeDash": [6, 3], "interpolate": "monotone"}}
  ]},
 {"width": 193, "height": 169, "data": {"name": "refl"},
  "encoding": {
    "x": {"field": "Q", "type": "quantitative", "scale": {"domain": [-0.0125, 0.2625], "nice": false, "zero": false}, "axis": {"values": [0, 0.1, 0.2], "format": ".1f", "title": "Q[Å⁻¹]", "titleFontStyle": "italic", "titleFontSize": 12, "titlePadding": 6}},
    "y": {"field": "R", "type": "quantitative", "scale": {"type": "log", "domain": [1e-7, 2], "nice": false}, "axis": {"values": [1e-7, 1e-5, 0.001, 0.1], "labels": false, "title": null}}
  },
  "layer": [
    {"transform": [{"filter": "datum.panel == 3 && datum.series == 'true'"}], "mark": {"type": "line", "color": "#1a1a1a", "strokeWidth": 2, "interpolate": "monotone"}},
    {"transform": [{"filter": "datum.panel == 3 && datum.series == 'predicted'"}], "mark": {"type": "line", "color": "#ee2424", "strokeWidth": 2, "strokeDash": [6, 3], "interpolate": "monotone"}}
  ]},
 {"width": 193, "height": 169, "data": {"name": "refl"},
  "encoding": {
    "x": {"field": "Q", "type": "quantitative", "scale": {"domain": [-0.0125, 0.2625], "nice": false, "zero": false}, "axis": {"values": [0, 0.1, 0.2], "format": ".1f", "title": null}},
    "y": {"field": "R", "type": "quantitative", "scale": {"type": "log", "domain": [1e-7, 2], "nice": false}, "axis": {"values": [1e-7, 1e-5, 0.001, 0.1], "labels": false, "title": null}}
  },
  "layer": [
    {"transform": [{"filter": "datum.panel == 4 && datum.series == 'true'"}], "mark": {"type": "line", "color": "#1a1a1a", "strokeWidth": 2, "interpolate": "monotone"}},
    {"transform": [{"filter": "datum.panel == 4 && datum.series == 'predicted'"}], "mark": {"type": "line", "color": "#ee2424", "strokeWidth": 2, "strokeDash": [6, 3], "interpolate": "monotone"}}
  ]},
 {"width": 193, "height": 169, "data": {"name": "refl"},
  "encoding": {
    "x": {"field": "Q", "type": "quantitative", "scale": {"domain": [-0.0125, 0.2625], "nice": false, "zero": false}, "axis": {"values": [0, 0.1, 0.2], "format": ".1f", "title": null}},
    "y": {"field": "R", "type": "quantitative", "scale": {"type": "log", "domain": [1e-7, 2], "nice": false}, "axis": {"values": [1e-7, 1e-5, 0.001, 0.1], "labels": false, "title": null}}
  },
  "layer": [
    {"transform": [{"filter": "datum.panel == 5 && datum.series == 'true'"}], "mark": {"type": "line", "color": "#1a1a1a", "strokeWidth": 2, "interpolate": "monotone"}},
    {"transform": [{"filter": "datum.panel == 5 && datum.series == 'predicted'"}], "mark": {"type": "line", "color": "#ee2424", "strokeWidth": 2, "strokeDash": [6, 3], "interpolate": "monotone"}}
  ]},
 {
  "width": 193, "height": 89.2,
  "view": {"stroke": null},
  "data": {"name": "caption"},
  "encoding": {
    "x": {"datum": 0, "type": "quantitative", "scale": {"domain": [0, 1]}, "axis": null},
    "y": {"field": "line", "type": "quantitative", "scale": {"domain": [1, 5], "reverse": true}, "axis": null},
    "text": {"field": "text"}
  },
  "layer": [
    {"transform": [{"filter": "datum.part == 'bold'"}], "mark": {"type": "text", "font": "Liberation Serif", "fontSize": 21, "fontWeight": "bold", "color": "#111111", "align": "left", "baseline": "alphabetic", "dx": -56.7, "dy": 78.3}},
    {"transform": [{"filter": "datum.part == 'rest'"}], "mark": {"type": "text", "font": "Liberation Serif", "fontSize": 21, "color": "#111111", "align": "left", "baseline": "alphabetic", "dx": 48.7, "dy": 78.3}},
    {"transform": [{"filter": "datum.part == 'body'"}], "mark": {"type": "text", "font": "Liberation Serif", "fontSize": 21, "color": "#111111", "align": "left", "baseline": "alphabetic", "dx": -56.7, "dy": 78.3}}
  ]
 }
]
}
